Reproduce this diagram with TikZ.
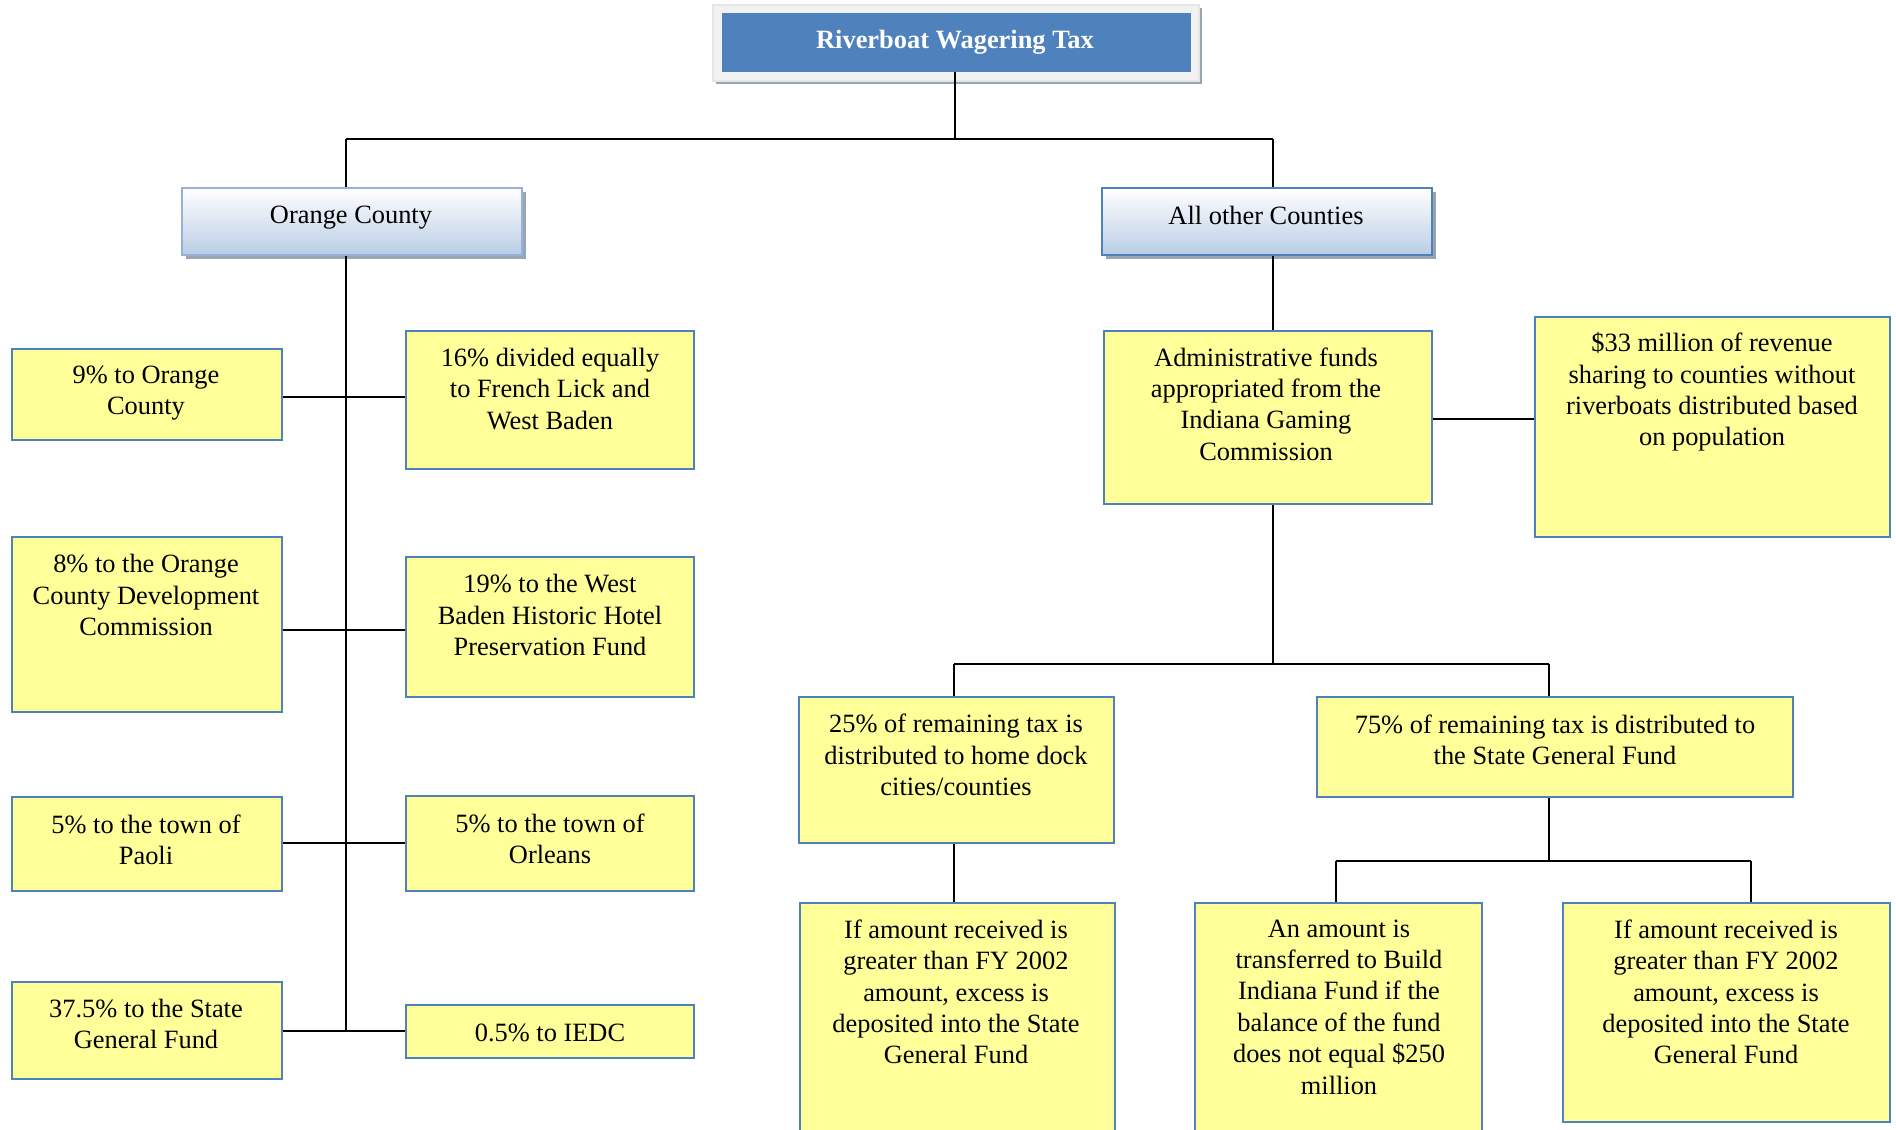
\documentclass[tikz,border=0pt]{standalone}
\usepackage{fontspec}
\setmainfont{Liberation Serif}
\usetikzlibrary{fit,shadows}
\definecolor{bord}{HTML}{4F81BD}
\definecolor{lbord}{HTML}{95B3D7}
\definecolor{yel}{HTML}{FFFF99}
\definecolor{ttlblue}{HTML}{4F81BD}
\definecolor{frame}{HTML}{F2F2F2}
\definecolor{shad}{HTML}{9AA5B4}
\definecolor{grad}{HTML}{B9CDE5}
\begin{document}
\begin{tikzpicture}[x=0.5pt,y=-0.5pt,
  ybox/.style={draw=bord, line width=1pt, fill=yel, inner sep=0pt},
  hbox/.style={inner sep=0pt, line width=1pt, top color=white, bottom color=grad,
     drop shadow={shadow xshift=2pt, shadow yshift=-2pt, fill=shad, opacity=1}},
  conn/.style={draw=black, line width=1pt},
  txt/.style={align=center, inner sep=0pt, font=\fontsize{13.2}{15.7}\selectfont}]
\useasboundingbox (0,0) rectangle (1896,1130);
\clip (0,0) rectangle (1896,1130);
\fill[white] (0,0) rectangle (1896,1130);

% title
\node[fit={(713,5)(1199,81)}, inner sep=0pt, draw=white!80!gray, line width=0.6pt, fill=frame,
      drop shadow={shadow xshift=1.5pt, shadow yshift=-1.5pt, fill=shad, opacity=1}] (tframe) {};
\node[fit={(722,13)(1191,72)}, inner sep=0pt, fill=ttlblue] (title) {};
\node[txt, text=white, font=\bfseries\fontsize{13.2}{15.7}\selectfont] (titlet) at (955,42) {Riverboat Wagering Tax};

% second level
\node[hbox, draw=lbord, fit={(182,188)(522,255)}] (oc) {};
\node[txt] (oct) at (351,218) {Orange County};
\node[hbox, draw=bord, fit={(1102,188)(1432,255)}] (ao) {};
\node[txt] (aot) at (1266,215) {All other Counties};

% left column boxes
\node[ybox, fit={(12,349)(282,440)}] (b9) {};
\node[txt] at (146,393) {9\% to Orange\\County};
\node[ybox, fit={(406,331)(694,469)}] (b16) {};
\node[txt] at (550,389) {16\% divided equally\\to French Lick and\\West Baden};
\node[ybox, fit={(12,537)(282,712)}] (b8) {};
\node[txt] at (146,595) {8\% to the Orange\\County Development\\Commission};
\node[ybox, fit={(406,557)(694,697)}] (b19) {};
\node[txt] at (550,615) {19\% to the West\\Baden Historic Hotel\\Preservation Fund};
\node[ybox, fit={(12,797)(282,891)}] (bp) {};
\node[txt] at (146,840) {5\% to the town of\\Paoli};
\node[ybox, fit={(406,796)(694,891)}] (bo) {};
\node[txt] at (550,839) {5\% to the town of\\Orleans};
\node[ybox, fit={(12,982)(282,1079)}] (bs) {};
\node[txt] at (146,1024) {37.5\% to the State\\General Fund};
\node[ybox, fit={(406,1005)(694,1058)}] (bi) {};
\node[txt] at (550,1033) {0.5\% to IEDC};

% right side boxes
\node[ybox, fit={(1104,331)(1432,504)}] (ad) {};
\node[txt] at (1266,404) {Administrative funds\\appropriated from the\\Indiana Gaming\\Commission};
\node[ybox, fit={(1535,317)(1890,537)}] (b33) {};
\node[txt] at (1712,392) {\$33 million of revenue\\sharing to counties without\\riverboats distributed based\\on population};
\node[ybox, fit={(799,697)(1114,843)}] (b25) {};
\node[txt] at (956,755) {25\% of remaining tax is\\distributed to home dock\\cities/counties};
\node[ybox, fit={(1317,697)(1793,797)}] (b75) {};
\node[txt] at (1555,740) {75\% of remaining tax is distributed to\\the State General Fund};
\node[ybox, fit={(800,903)(1115,1145)}] (bl) {};
\node[txt] at (956,992) {If amount received is\\greater than FY 2002\\amount, excess is\\deposited into the State\\General Fund};
\node[ybox, fit={(1195,903)(1482,1145)}] (bm) {};
\node[txt] at (1339,1007) {An amount is\\transferred to Build\\Indiana Fund if the\\balance of the fund\\does not equal \$250\\million};
\node[ybox, fit={(1563,903)(1890,1122)}] (br) {};
\node[txt] at (1726,992) {If amount received is\\greater than FY 2002\\amount, excess is\\deposited into the State\\General Fund};

% junction coordinates
\coordinate (hL) at (346,139);
\coordinate (hR) at (1273,139);
\coordinate (t1) at (346,397);
\coordinate (t2) at (346,630);
\coordinate (t3) at (346,843);
\coordinate (t4) at (346,1031);
\coordinate (ra) at (1273,419);
\coordinate (j2L) at (954,664);
\coordinate (j2R) at (1549,664);
\coordinate (j3L) at (1336,861);
\coordinate (j3R) at (1751,861);

% connectors
\draw[conn] (title.south -| titlet) -- (titlet |- hL);
\draw[conn] (hL) -- (hR);
\draw[conn] (hL) -- (hL |- oc.north);
\draw[conn] (hR) -- (hR |- ao.north);
\draw[conn] (hL |- oc.south) -- (t4);
\draw[conn] (t1 -| b9.east) -- (t1 -| b16.west);
\draw[conn] (t2 -| b8.east) -- (t2 -| b19.west);
\draw[conn] (t3 -| bp.east) -- (t3 -| bo.west);
\draw[conn] (t4 -| bs.east) -- (t4 -| bi.west);
\draw[conn] (hR |- ao.south) -- (hR |- ad.north);
\draw[conn] (ra -| ad.east) -- (ra -| b33.west);
\draw[conn] (hR |- ad.south) -- (hR |- j2L);
\draw[conn] (j2L) -- (j2R);
\draw[conn] (j2L) -- (j2L |- b25.north);
\draw[conn] (j2R) -- (j2R |- b75.north);
\draw[conn] (j2L |- b25.south) -- (j2L |- bl.north);
\draw[conn] (j2R |- b75.south) -- (j2R |- j3L);
\draw[conn] (j3L) -- (j3R);
\draw[conn] (j3L) -- (j3L |- bm.north);
\draw[conn] (j3R) -- (j3R |- br.north);
\end{tikzpicture}
\end{document}
